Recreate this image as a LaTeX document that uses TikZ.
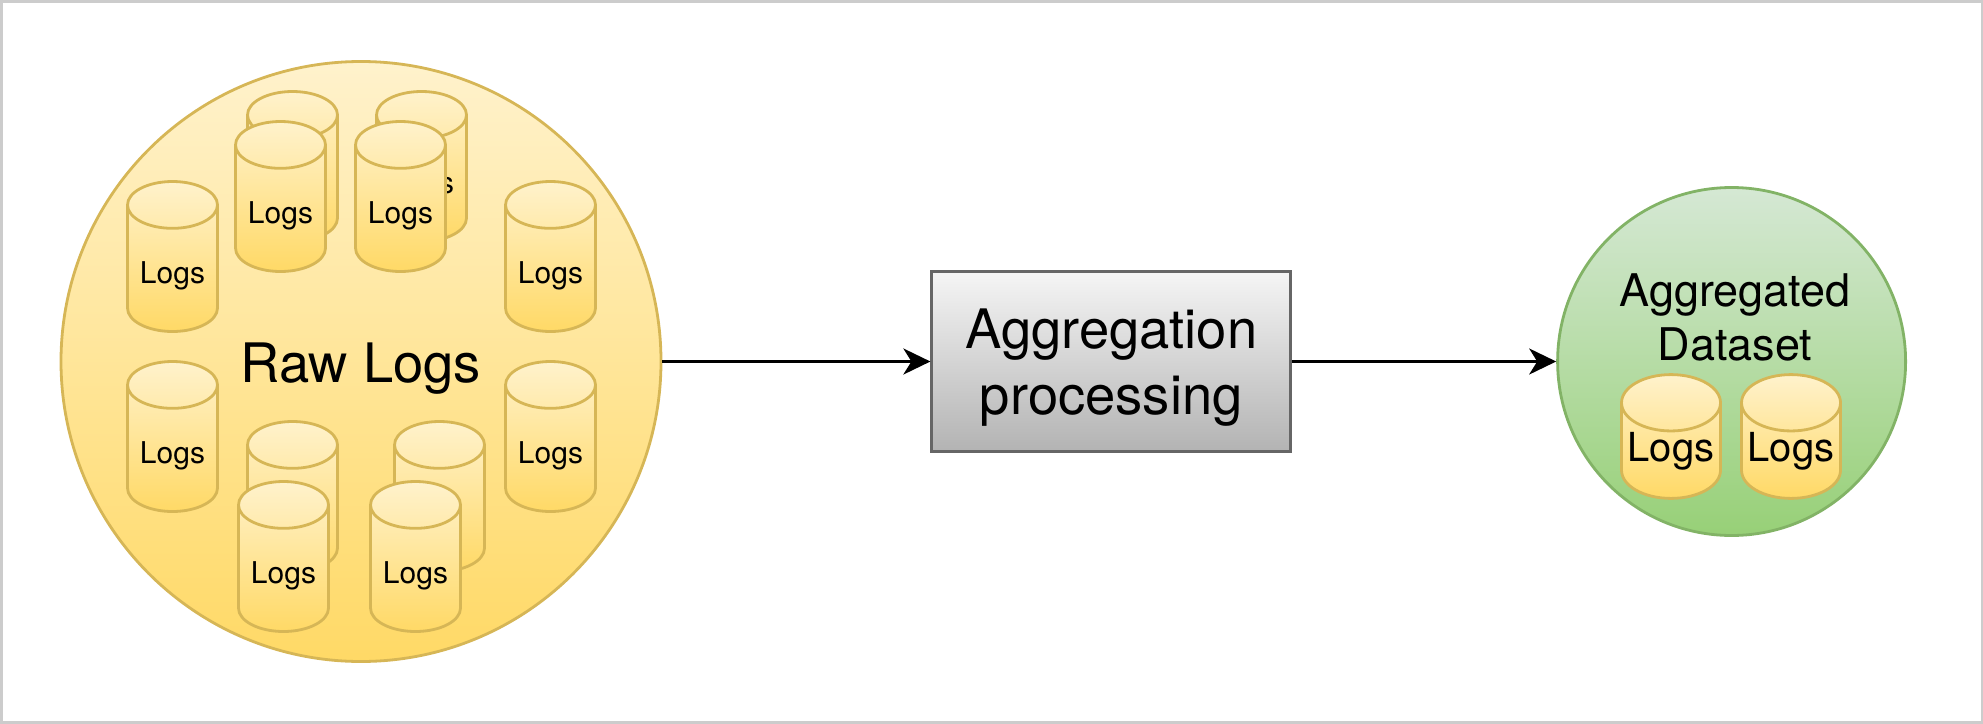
\documentclass[tikz,border=0pt]{standalone}
\usepackage{fontspec}
\setmainfont{TeX Gyre Heros}
\usetikzlibrary{
	arrows.meta,
	positioning,
	shapes.geometric
}
\newcommand{\logstxt}{\rule{0pt}{35pt}Logs}

\begin{document}
\begin{tikzpicture}[
			x=1pt, y=-1pt,
			grande/.style={font=\fontsize{54.4}{66}\selectfont},
			bolha/.style={draw=#1, circle, inner sep=0pt, line width=2.8pt},
			cru/.style={bolha=cruborda, minimum size=600pt, top color=crutopo, bottom color=crubase, grande},
			final/.style={bolha=finalborda, minimum size=348pt, top color=finaltopo, bottom color=finalbase},
			proc/.style={draw=procborda, line width=2.8pt, minimum width=359pt, minimum height=180pt, align=center, top color=proctopo, bottom color=procbase, grande},
			logs/.style={draw=cruborda, line width=2.8pt, cylinder, shape border rotate=90, aspect=0.72, minimum width=90pt, minimum height=150pt, inner sep=0pt, anchor=shape center, top color=crutopo, bottom color=crubase, font=\fontsize{30}{36}\selectfont},
			logsb/.style={logs, minimum width=99pt, minimum height=119pt, aspect=0.65, font=\fontsize{40}{48}\selectfont},
			fl/.style={-{Stealth[length=27pt, width=26pt, inset=8pt]}, line width=3pt},
			moldura/.style={draw=molduracor, line width=3pt}
		]
		\definecolor{cruborda}{HTML}{D6B656}
		\definecolor{crutopo}{HTML}{FFF2CC}
		\definecolor{crubase}{HTML}{FFD966}
		\definecolor{finalborda}{HTML}{82B366}
		\definecolor{finaltopo}{HTML}{D5E8D4}
		\definecolor{finalbase}{HTML}{97D077}
		\definecolor{procborda}{HTML}{666666}
		\definecolor{proctopo}{HTML}{F5F5F5}
		\definecolor{procbase}{HTML}{B3B3B3}
		\definecolor{molduracor}{HTML}{CCCCCC}

		\useasboundingbox (0,0) rectangle (1983,723);
		\path[moldura] (1,1) rectangle (1982,722);

		\node[cru] (raw) at (361,361.5) {\rule{0pt}{53pt}Raw Logs};
		\node[proc, right=268pt of raw] (proc) {\rule{0pt}{52pt}Aggregation\\processing};
		\node[final, right=264pt of proc] (agg) {};
		\node[align=center, font=\fontsize{45}{54}\selectfont] (aggtxt) at (1735,317) {Aggregated\\Dataset};

		\node[logs] (l1) at (292.5,166.5) {\phantom{\logstxt}};
		\node[logs] (l2) at (421.5,166.5) {\logstxt};
		\node[logs] (l3) at (280.5,196.5) {\logstxt};
		\node[logs] (l4) at (400.5,196.5) {\logstxt};
		\node[logs] (l5) at (172.5,256.5) {\logstxt};
		\node[logs] (l6) at (550.5,256.5) {\logstxt};
		\node[logs] (l7) at (172.5,436.5) {\logstxt};
		\node[logs] (l8) at (550.5,436.5) {\logstxt};
		\node[logs] (l9) at (292.5,496.5) {\phantom{\logstxt}};
		\node[logs] (l10) at (439.5,496.5) {\phantom{\logstxt}};
		\node[logs] (l11) at (283.5,556.5) {\logstxt};
		\node[logs] (l12) at (415.5,556.5) {\logstxt};

		\node[logsb] (b1) at (1671,436.5) {Logs};
		\node[logsb] (b2) at (1791,436.5) {Logs};

		\draw[fl] (raw) -- (proc);
		\draw[fl] (proc) -- (agg);
	\end{tikzpicture}
\end{document}
